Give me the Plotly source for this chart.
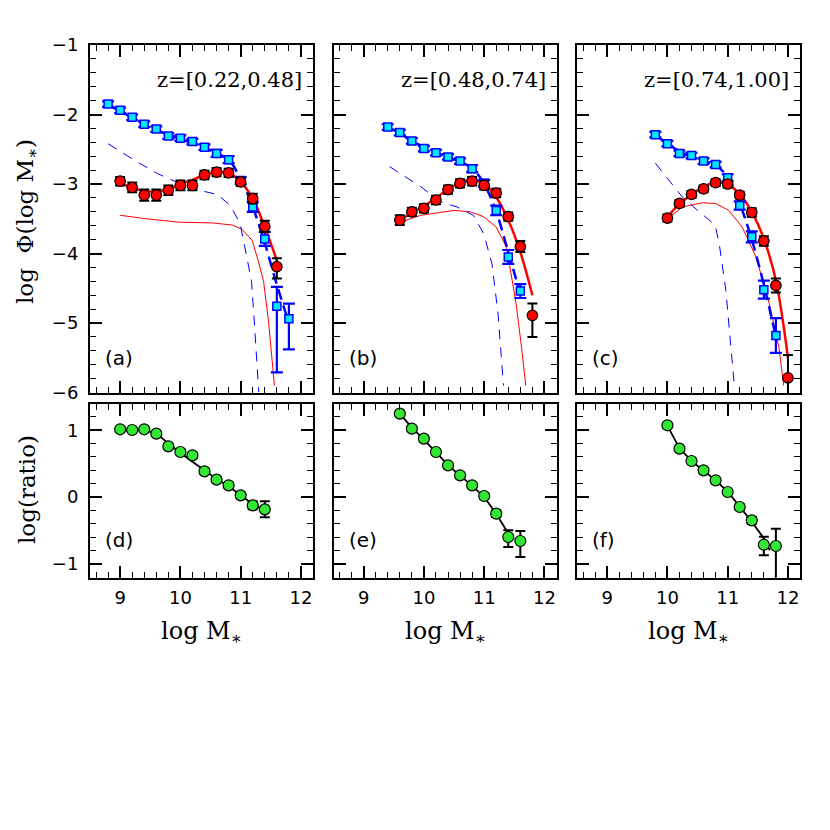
import plotly.graph_objects as go

# ---- panel (a) z=[0.22,0.48] ----
blue_x_a = [8.8, 9.0, 9.2, 9.4, 9.6, 9.8, 10.0, 10.2, 10.4, 10.6, 10.8, 11.0, 11.2, 11.4, 11.6, 11.8]
blue_y_a = [-1.85, -1.94, -2.04, -2.14, -2.21, -2.31, -2.34, -2.39, -2.47, -2.56, -2.65, -2.95, -3.33, -3.79, -4.76, -4.94]
blue_eu_a = [0.04, 0.04, 0.04, 0.04, 0.04, 0.04, 0.04, 0.04, 0.04, 0.05, 0.05, 0.05, 0.07, 0.1, 0.28, 0.22]
blue_ed_a = [0.04, 0.04, 0.04, 0.04, 0.04, 0.04, 0.04, 0.04, 0.04, 0.05, 0.05, 0.05, 0.07, 0.1, 0.95, 0.44]
red_x_a = [9.0, 9.2, 9.4, 9.6, 9.8, 10.0, 10.2, 10.4, 10.6, 10.8, 11.0, 11.2, 11.4, 11.6]
red_y_a = [-2.96, -3.05, -3.16, -3.16, -3.09, -3.02, -3.02, -2.87, -2.83, -2.84, -2.97, -3.21, -3.61, -4.19]
red_eu_a = [0.06, 0.07, 0.08, 0.08, 0.07, 0.07, 0.07, 0.06, 0.06, 0.06, 0.06, 0.07, 0.08, 0.12]
red_ed_a = [0.06, 0.07, 0.08, 0.08, 0.07, 0.07, 0.07, 0.06, 0.06, 0.06, 0.06, 0.07, 0.08, 0.17]
fit_red_x_a = [9.0, 9.2, 9.4, 9.6, 9.8, 10.0, 10.2, 10.4, 10.6, 10.8, 11.0, 11.2, 11.4, 11.6]
fit_red_y_a = [-2.97, -3.06, -3.10, -3.11, -3.08, -3.00, -2.94, -2.87, -2.83, -2.84, -2.97, -3.21, -3.62, -4.10]
fit_blue_x_a = [8.8, 9.0, 9.2, 9.4, 9.6, 9.8, 10.0, 10.2, 10.4, 10.6, 10.8, 11.0, 11.2, 11.4, 11.6, 11.8]
fit_blue_y_a = [-1.87, -1.95, -2.05, -2.13, -2.22, -2.29, -2.35, -2.41, -2.48, -2.56, -2.65, -2.93, -3.33, -3.85, -4.45, -5.0]
thin_red_x_a = [9.0, 9.43, 9.98, 10.53, 10.86, 11.02, 11.19, 11.29, 11.38, 11.46, 11.56]
thin_red_y_a = [-3.45, -3.50, -3.55, -3.56, -3.59, -3.65, -3.81, -4.10, -4.40, -4.96, -5.9]
thin_blue_x_a = [8.8, 9.24, 9.62, 9.98, 10.36, 10.61, 10.83, 10.99, 11.09, 11.18, 11.22, 11.27, 11.30]
thin_blue_y_a = [-2.42, -2.66, -2.85, -2.99, -3.10, -3.15, -3.31, -3.57, -4.0, -4.4, -4.9, -5.6, -6.0]

# ---- panel (b) z=[0.48,0.74] ----
blue_x_b = [9.4, 9.6, 9.8, 10.0, 10.2, 10.4, 10.6, 10.8, 11.0, 11.2, 11.4, 11.6]
blue_y_b = [-2.18, -2.26, -2.38, -2.49, -2.55, -2.61, -2.67, -2.78, -2.99, -3.38, -4.05, -4.54]
blue_e_b = [0.04, 0.04, 0.04, 0.04, 0.04, 0.04, 0.04, 0.05, 0.05, 0.07, 0.1, 0.1]
red_x_b = [9.6, 9.8, 10.0, 10.2, 10.4, 10.6, 10.8, 11.0, 11.2, 11.4, 11.6, 11.8]
red_y_b = [-3.52, -3.40, -3.35, -3.23, -3.08, -2.99, -2.96, -3.02, -3.13, -3.47, -3.90, -4.89]
red_eu_b = [0.07, 0.06, 0.06, 0.06, 0.06, 0.06, 0.06, 0.06, 0.06, 0.06, 0.08, 0.17]
red_ed_b = [0.07, 0.06, 0.06, 0.06, 0.06, 0.06, 0.06, 0.06, 0.06, 0.06, 0.08, 0.31]
fit_red_x_b = [9.6, 9.8, 10.0, 10.2, 10.4, 10.6, 10.8, 11.0, 11.2, 11.4, 11.6, 11.8]
fit_red_y_b = [-3.53, -3.41, -3.32, -3.20, -3.08, -2.98, -2.94, -3.00, -3.19, -3.52, -3.98, -4.60]
fit_blue_x_b = [9.4, 9.6, 9.8, 10.0, 10.2, 10.4, 10.6, 10.8, 11.0, 11.2, 11.4, 11.6]
fit_blue_y_b = [-2.18, -2.27, -2.38, -2.47, -2.55, -2.61, -2.68, -2.77, -3.0, -3.4, -3.98, -4.58]
thin_red_x_b = [9.6, 9.95, 10.5, 10.77, 10.99, 11.2, 11.37, 11.53, 11.62, 11.69]
thin_red_y_b = [-3.55, -3.45, -3.38, -3.40, -3.47, -3.62, -3.91, -4.72, -5.35, -5.9]
thin_blue_x_b = [9.43, 9.95, 10.28, 10.55, 10.82, 10.99, 11.13, 11.23, 11.32]
thin_blue_y_b = [-2.75, -3.04, -3.26, -3.33, -3.45, -3.71, -4.15, -4.87, -5.9]

# ---- panel (c) z=[0.74,1.00] ----
blue_x_c = [9.8, 10.0, 10.2, 10.4, 10.6, 10.8, 11.0, 11.2, 11.4, 11.6, 11.8]
blue_y_c = [-2.29, -2.42, -2.56, -2.59, -2.67, -2.72, -2.91, -3.31, -3.76, -4.52, -5.18]
blue_e_c = [0.04, 0.04, 0.04, 0.04, 0.04, 0.04, 0.05, 0.06, 0.08, 0.13, 0.25]
red_x_c = [10.0, 10.2, 10.4, 10.6, 10.8, 11.0, 11.2, 11.4, 11.6, 11.8, 12.0]
red_y_c = [-3.49, -3.28, -3.15, -3.07, -2.98, -3.00, -3.16, -3.41, -3.82, -4.46, -5.79]
red_eu_c = [0.05, 0.05, 0.05, 0.05, 0.05, 0.05, 0.05, 0.06, 0.07, 0.1, 0.33]
red_ed_c = [0.05, 0.05, 0.05, 0.05, 0.05, 0.05, 0.05, 0.06, 0.07, 0.1, 0.5]
fit_red_x_c = [10.0, 10.2, 10.4, 10.6, 10.8, 11.0, 11.2, 11.4, 11.6, 11.8, 12.0]
fit_red_y_c = [-3.47, -3.29, -3.15, -3.04, -2.98, -3.00, -3.15, -3.40, -3.79, -4.39, -5.5]
fit_blue_x_c = [9.8, 10.0, 10.2, 10.4, 10.6, 10.8, 11.0, 11.2, 11.4, 11.6, 11.8]
fit_blue_y_c = [-2.29, -2.42, -2.53, -2.61, -2.67, -2.73, -2.9, -3.28, -3.8, -4.45, -5.2]
thin_red_x_c = [10.0, 10.25, 10.58, 10.80, 11.02, 11.24, 11.47, 11.69, 11.85, 11.93]
thin_red_y_c = [-3.50, -3.33, -3.27, -3.28, -3.38, -3.62, -4.05, -4.72, -5.35, -5.9]
thin_blue_x_c = [9.80, 10.25, 10.53, 10.79, 10.86, 10.97, 11.11]
thin_blue_y_c = [-2.70, -3.19, -3.40, -3.59, -3.86, -4.53, -5.9]

# ---- ratio panels (d), (e), (f) ----
ratio_x_d = [9.0, 9.2, 9.4, 9.6, 9.8, 10.0, 10.2, 10.4, 10.6, 10.8, 11.0, 11.2, 11.4]
ratio_y_d = [1.015, 1.005, 1.015, 0.95, 0.76, 0.675, 0.625, 0.385, 0.26, 0.175, 0.025, -0.125, -0.185]
ratio_e_d = [0.03, 0.03, 0.03, 0.03, 0.04, 0.04, 0.04, 0.04, 0.04, 0.04, 0.04, 0.06, 0.12]
ratio_line_x_d = [9.0, 9.4, 9.6, 9.8, 10.0, 10.2, 10.4, 10.6, 10.8, 11.0, 11.2, 11.4]
ratio_line_y_d = [1.0, 1.0, 0.95, 0.8, 0.66, 0.53, 0.4, 0.27, 0.16, 0.03, -0.11, -0.2]

ratio_x_e = [9.6, 9.8, 10.0, 10.2, 10.4, 10.6, 10.8, 11.0, 11.2, 11.4, 11.6]
ratio_y_e = [1.25, 1.025, 0.875, 0.675, 0.475, 0.325, 0.175, 0.015, -0.25, -0.6, -0.66]
ratio_eu_e = [0.03, 0.03, 0.03, 0.03, 0.03, 0.03, 0.03, 0.04, 0.05, 0.1, 0.15]
ratio_ed_e = [0.03, 0.03, 0.03, 0.03, 0.03, 0.03, 0.03, 0.04, 0.05, 0.15, 0.24]
ratio_line_x_e = [9.6, 9.8, 10.0, 10.2, 10.4, 10.6, 10.8, 11.0, 11.2, 11.45]
ratio_line_y_e = [1.25, 1.04, 0.86, 0.67, 0.48, 0.32, 0.17, 0.0, -0.25, -0.62]

ratio_x_f = [10.0, 10.2, 10.4, 10.6, 10.8, 11.0, 11.2, 11.4, 11.6, 11.8]
ratio_y_f = [1.075, 0.725, 0.54, 0.40, 0.25, 0.075, -0.15, -0.35, -0.715, -0.735]
ratio_eu_f = [0.03, 0.03, 0.03, 0.03, 0.03, 0.03, 0.04, 0.05, 0.12, 0.26]
ratio_ed_f = [0.03, 0.03, 0.03, 0.03, 0.03, 0.03, 0.04, 0.05, 0.16, 0.6]
ratio_line_x_f = [10.0, 10.2, 10.4, 10.6, 10.8, 11.0, 11.2, 11.4, 11.6, 11.7]
ratio_line_y_f = [1.07, 0.73, 0.54, 0.40, 0.25, 0.08, -0.15, -0.37, -0.62, -0.8]

z_labels = ["z=[0.22,0.48]", "z=[0.48,0.74]", "z=[0.74,1.00]"]
top_tags = ["(a)", "(b)", "(c)"]
bot_tags = ["(d)", "(e)", "(f)"]

RED = "#ff0000"
BLUE = "#0000ff"
CYAN = "#00e6ff"
GREEN = "#33e633"
TICKFONT = dict(family="DejaVu Sans", size=18, color="black")
SERIF = "DejaVu Serif"
W = 830.0
OFF = 8.0  # the page body adds an 8 px margin, so pull everything back by that much

fig = go.Figure()

top_panels = [
    (blue_x_a, blue_y_a, blue_eu_a, blue_ed_a, red_x_a, red_y_a, red_eu_a, red_ed_a,
     fit_red_x_a, fit_red_y_a, fit_blue_x_a, fit_blue_y_a,
     thin_red_x_a, thin_red_y_a, thin_blue_x_a, thin_blue_y_a),
    (blue_x_b, blue_y_b, blue_e_b, blue_e_b, red_x_b, red_y_b, red_eu_b, red_ed_b,
     fit_red_x_b, fit_red_y_b, fit_blue_x_b, fit_blue_y_b,
     thin_red_x_b, thin_red_y_b, thin_blue_x_b, thin_blue_y_b),
    (blue_x_c, blue_y_c, blue_e_c, blue_e_c, red_x_c, red_y_c, red_eu_c, red_ed_c,
     fit_red_x_c, fit_red_y_c, fit_blue_x_c, fit_blue_y_c,
     thin_red_x_c, thin_red_y_c, thin_blue_x_c, thin_blue_y_c),
]

for i, p in enumerate(top_panels):
    (bx, by, beu, bed, rx, ry, reu, red_, frx, fry, fbx, fby, trx, try_, tbx, tby) = p
    xa = "x" if i == 0 else f"x{i + 1}"
    ya = "y" if i == 0 else f"y{i + 1}"
    # thin component curves
    fig.add_trace(go.Scatter(x=trx, y=try_, mode="lines", xaxis=xa, yaxis=ya,
                             line=dict(color=RED, width=1)))
    fig.add_trace(go.Scatter(x=tbx, y=tby, mode="lines", xaxis=xa, yaxis=ya,
                             line=dict(color=BLUE, width=1, dash="10px,8px")))
    # thick fits
    fig.add_trace(go.Scatter(x=fbx, y=fby, mode="lines", xaxis=xa, yaxis=ya,
                             line=dict(color=BLUE, width=2.5, dash="11px,6px", shape="spline")))
    fig.add_trace(go.Scatter(x=frx, y=fry, mode="lines", xaxis=xa, yaxis=ya,
                             line=dict(color=RED, width=2.5, shape="spline")))
    # data points
    fig.add_trace(go.Scatter(
        x=bx, y=by, mode="markers", xaxis=xa, yaxis=ya,
        marker=dict(symbol="square", size=8, color=CYAN, line=dict(color=BLUE, width=1.5)),
        error_y=dict(type="data", symmetric=False, array=beu, arrayminus=bed,
                     color=BLUE, thickness=2.2, width=6)))
    fig.add_trace(go.Scatter(
        x=rx, y=ry, mode="markers", xaxis=xa, yaxis=ya,
        marker=dict(symbol="circle", size=10.5, color=RED, line=dict(color="black", width=1.2)),
        error_y=dict(type="data", symmetric=False, array=reu, arrayminus=red_,
                     color="black", thickness=2, width=5)))

bottom_panels = [
    (ratio_x_d, ratio_y_d, ratio_e_d, ratio_e_d, ratio_line_x_d, ratio_line_y_d),
    (ratio_x_e, ratio_y_e, ratio_eu_e, ratio_ed_e, ratio_line_x_e, ratio_line_y_e),
    (ratio_x_f, ratio_y_f, ratio_eu_f, ratio_ed_f, ratio_line_x_f, ratio_line_y_f),
]

for i, (gx, gy, geu, ged, lx, ly) in enumerate(bottom_panels):
    xa = f"x{i + 4}"
    ya = f"y{i + 4}"
    fig.add_trace(go.Scatter(x=lx, y=ly, mode="lines", xaxis=xa, yaxis=ya,
                             line=dict(color="black", width=1.8)))
    fig.add_trace(go.Scatter(
        x=gx, y=gy, mode="markers", xaxis=xa, yaxis=ya,
        marker=dict(symbol="circle", size=11, color=GREEN, line=dict(color="black", width=1.2)),
        error_y=dict(type="data", symmetric=False, array=geu, arrayminus=ged,
                     color="black", thickness=2, width=5)))


def px_x(a, b):
    return [(a - OFF) / W, (b - OFF) / W]


def px_y(top, bottom):
    return [1 - (bottom - OFF) / W, 1 - (top - OFF) / W]


xdoms = [px_x(90, 313), px_x(333.5, 556.5), px_x(577, 800)]
top_dom = px_y(45, 392.5)
bot_dom = px_y(404.3, 577.7)


def axis_style(rng, show_labels, domain, anchor, standoff):
    return dict(
        range=rng, domain=domain, anchor=anchor, automargin=False,
        showgrid=False, zeroline=False,
        showline=True, linecolor="black", linewidth=2, mirror="allticks",
        ticks="inside", ticklen=12, tickwidth=1.6, tickcolor="black",
        dtick=1, tick0=0,
        minor=dict(ticks="inside", ticklen=6, tickwidth=1.4, tickcolor="black", dtick=0.2, tick0=0),
        showticklabels=show_labels, tickfont=TICKFONT, ticklabelstandoff=standoff,
    )


layout = {}
for i in range(3):
    top_x = "xaxis" if i == 0 else f"xaxis{i + 1}"
    top_y = "yaxis" if i == 0 else f"yaxis{i + 1}"
    ty = "y" if i == 0 else f"y{i + 1}"
    tx = "x" if i == 0 else f"x{i + 1}"
    layout[top_x] = axis_style([8.5, 12.2], False, xdoms[i], ty, 3)
    layout[top_y] = axis_style([-6, -1], i == 0, top_dom, tx, 6)
    layout[f"xaxis{i + 4}"] = axis_style([8.5, 12.2], True, xdoms[i], f"y{i + 4}", 3)
    layout[f"yaxis{i + 4}"] = axis_style([-1.21, 1.39], i == 0, bot_dom, f"x{i + 4}", 6)

fig.update_layout(**layout)

annotations = []
for i in range(3):
    xr = "x" if i == 0 else f"x{i + 1}"
    yr = "y" if i == 0 else f"y{i + 1}"
    annotations.append(dict(text=z_labels[i], xref=f"{xr} domain", yref=f"{yr} domain",
                            x=0.96, y=0.9, xanchor="right", yanchor="middle", showarrow=False,
                            font=dict(family=SERIF, size=21, color="black")))
    annotations.append(dict(text=top_tags[i], xref=f"{xr} domain", yref=f"{yr} domain",
                            x=0.06, y=0.098, xanchor="left", yanchor="middle", showarrow=False,
                            font=dict(family="DejaVu Sans", size=20, color="black")))
    annotations.append(dict(text=bot_tags[i], xref=f"x{i + 4} domain", yref=f"y{i + 4} domain",
                            x=0.06, y=0.22, xanchor="left", yanchor="middle", showarrow=False,
                            font=dict(family="DejaVu Sans", size=20, color="black")))
    annotations.append(dict(text="log M<sub>\u2217</sub>", xref=f"x{i + 4} domain", yref="paper",
                            x=0.5, y=1 - (632 - OFF) / W, xanchor="center", yanchor="middle",
                            showarrow=False, font=dict(family=SERIF, size=24, color="black")))

annotations.append(dict(text="log  \u03a6(log M<sub>\u2217</sub>)", xref="paper", yref="paper",
                        x=(27 - OFF) / W, y=1 - (222 - OFF) / W, textangle=-90, showarrow=False,
                        xanchor="center", yanchor="middle",
                        font=dict(family=SERIF, size=23, color="black")))
annotations.append(dict(text="log(ratio)", xref="paper", yref="paper",
                        x=(27 - OFF) / W, y=1 - (490 - OFF) / W, textangle=-90, showarrow=False,
                        xanchor="center", yanchor="middle",
                        font=dict(family=SERIF, size=23, color="black")))

fig.update_layout(
    annotations=annotations,
    width=830, height=830,
    margin=dict(l=0, r=0, t=0, b=0),
    paper_bgcolor="white", plot_bgcolor="white",
    showlegend=False,
)

fig.write_html("out.html")
